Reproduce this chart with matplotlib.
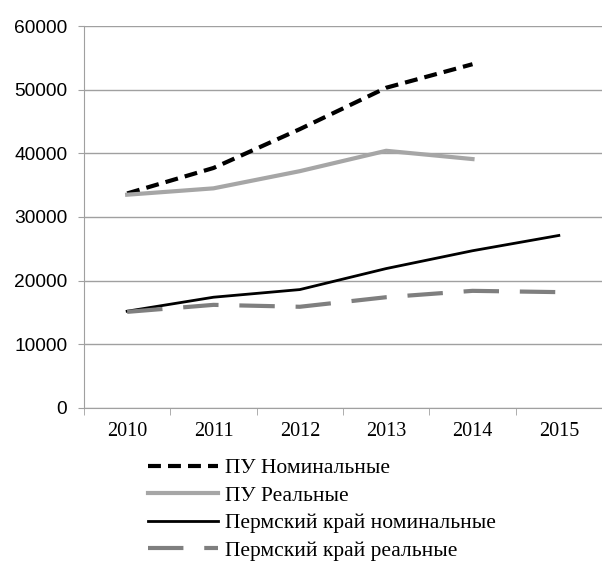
import numpy as np
from matplotlib import pyplot as plt

#Years and wages (rub.)
years = ['2010', '2011', '2012', '2013', '2014', '2015']
pu_nominal = [33700, 37700, 43800, 50300, 54000]
pu_real = [33500, 34500, 37200, 40400, 39100]
perm_nominal = [15200, 17400, 18600, 21900, 24700, 27100]
perm_real = [15100, 16200, 15900, 17400, 18400, 18200]

labels = ['ПУ Номинальные', 'ПУ Реальные',
          'Пермский край номинальные', 'Пермский край реальные']

fig = plt.figure(figsize=(6.02, 5.64), dpi=100)
ax = fig.add_axes([0.1395, 0.2766, 0.8605, 0.6773])

x = np.arange(len(years))
ax.plot(x[:len(pu_nominal)], pu_nominal, color='black', lw=3,
        linestyle=(0, (3.1, 1.7)), label=labels[0])
ax.plot(x[:len(pu_real)], pu_real, color='#a6a6a6', lw=3, label=labels[1])
ax.plot(x, perm_nominal, color='black', lw=2, label=labels[2])
ax.plot(x, perm_real, color='#7f7f7f', lw=3,
        linestyle=(0, (8.5, 5)), label=labels[3])

ax.set_ylim(0, 60000)
ax.set_yticks(range(0, 60001, 10000))
ax.yaxis.grid(True, color='#a0a0a0', lw=1)
ax.set_axisbelow(True)

ax.set_xlim(-0.5, 5.415)
ax.set_xticks(x)
ax.set_xticklabels(years, fontfamily='Liberation Serif', fontsize=14.5)
ax.set_xticks(np.arange(-0.5, 5.6, 1), minor=True)
ax.tick_params(axis='x', which='major', length=0, pad=10)
ax.tick_params(axis='x', which='minor', length=5, color='#a0a0a0')
ax.tick_params(axis='y', length=4, color='#a0a0a0', labelsize=13.8, pad=8)
for t in ax.get_yticklabels():
    t.set_fontfamily('Liberation Sans')

for s in ['top', 'right']:
    ax.spines[s].set_visible(False)
ax.spines['left'].set_color('#a0a0a0')
ax.spines['bottom'].set_color('#a0a0a0')

fig.legend(loc='upper left', bbox_to_anchor=(0.246, 0.188), frameon=False,
           prop={'family': 'Liberation Serif', 'size': 15.5},
           handlelength=3.25, handletextpad=0.3, labelspacing=0.35,
           borderaxespad=0, borderpad=0)

plt.savefig('out.png', dpi=100)
